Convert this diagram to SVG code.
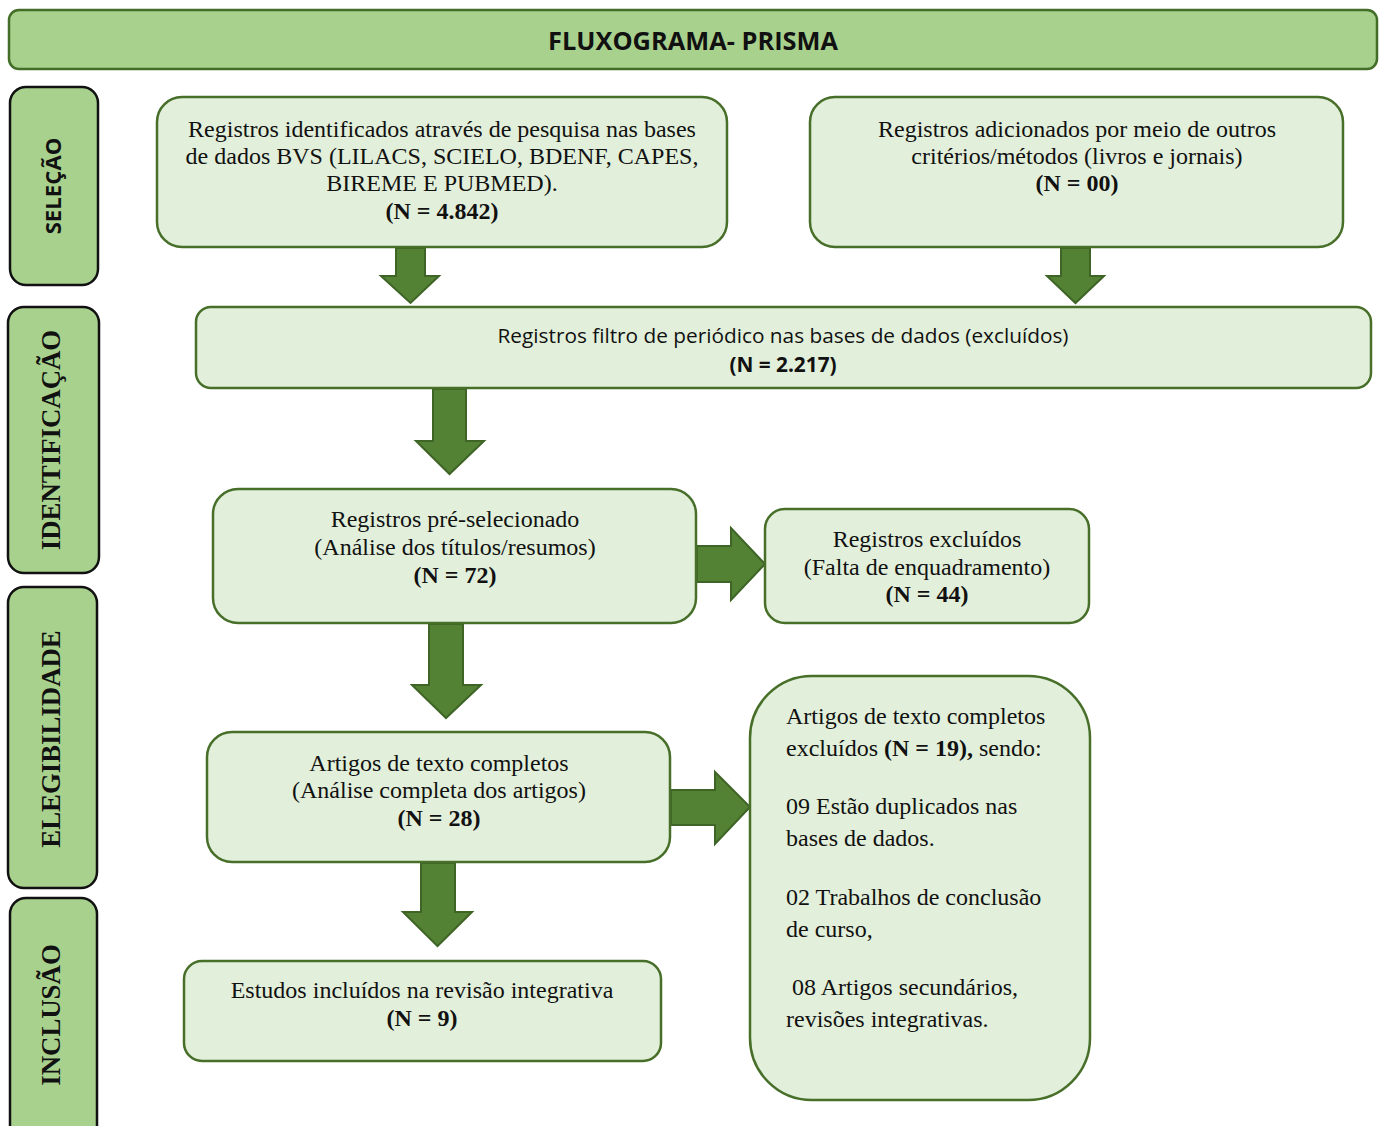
<svg xmlns="http://www.w3.org/2000/svg" width="1379" height="1126" viewBox="0 0 1379 1126">
<style>
.hdr{fill:#a9d18e;stroke:#426e28;stroke-width:2.5}
.side{fill:#a9d18e;stroke:#111;stroke-width:2.5}
.box{fill:#e2efda;stroke:#476f2a;stroke-width:2.5}
.arr{fill:#548235;stroke:#3e6426;stroke-width:2}
.serif{font-family:"Liberation Serif","Times New Roman",serif;font-size:24px;fill:#111}
.sans{font-family:"Open Sans","Liberation Sans",sans-serif;font-size:20.8px;fill:#111}
.c{text-anchor:middle}
.b{font-weight:bold}
.sidet{font-weight:bold;text-anchor:middle}
.sideserif{font-size:26.8px}
</style>
<g id="header">
<rect class="hdr" x="9" y="10" width="1368" height="59" rx="10"/>
<text class="sans b c" x="693" y="50" style="font-size:25.5px" textLength="290" lengthAdjust="spacingAndGlyphs">FLUXOGRAMA- PRISMA</text>
</g>
<g id="lane-selecao">
<rect class="side" x="10" y="87" width="88" height="198" rx="16"/>
<text class="sans sidet" transform="translate(61,186) rotate(-90)" style="font-size:22.2px">SELEÇÃO</text>
</g>
<g id="lane-identificacao">
<rect class="side" x="8" y="307" width="91" height="266" rx="16"/>
<text class="serif sidet sideserif" transform="translate(60,440) rotate(-90)">IDENTIFICAÇÃO</text>
</g>
<g id="lane-elegibilidade">
<rect class="side" x="8" y="587" width="89" height="301" rx="16"/>
<text class="serif sidet sideserif" transform="translate(60,739) rotate(-90)">ELEGIBILIDADE</text>
</g>
<g id="lane-inclusao">
<rect class="side" x="10" y="898" width="87" height="250" rx="16"/>
<text class="serif sidet sideserif" transform="translate(60,1015) rotate(-90)">INCLUSÃO</text>
</g>
<g id="connectors">
<polygon class="arr" points="396,248 425,248 425,276 439,276 410.5,303 381,276 396,276"/>
<polygon class="arr" points="1061,248 1090,248 1090,276 1104,276 1075.5,303 1047,276 1061,276"/>
<polygon class="arr" points="433,389 466,389 466,441 484,441 449.5,474 416,441 433,441"/>
<polygon class="arr" points="697,546 731,546 731,528 765,564 731,600 731,582 697,582"/>
<polygon class="arr" points="429,624 463,624 463,685 481,685 446,718 412,685 429,685"/>
<polygon class="arr" points="671,790 715,790 715,772 750,807 715,844 715,825 671,825"/>
<polygon class="arr" points="421,863 455,863 455,912 472,912 437.5,946 403,912 421,912"/>
</g>
<g id="box-identificados">
<rect class="box" x="157" y="97" width="570" height="150" rx="25"/>
<text class="serif c" x="442" y="137">Registros identificados através de pesquisa nas bases</text>
<text class="serif c" x="442" y="164">de dados BVS (LILACS, SCIELO, BDENF, CAPES,</text>
<text class="serif c" x="442" y="191">BIREME E PUBMED).</text>
<text class="serif c b" x="442" y="219">(N = 4.842)</text>
</g>
<g id="box-adicionados">
<rect class="box" x="810" y="97" width="533" height="150" rx="25"/>
<text class="serif c" x="1077" y="137">Registros adicionados por meio de outros</text>
<text class="serif c" x="1077" y="164">critérios/métodos (livros e jornais)</text>
<text class="serif c b" x="1077" y="191">(N = 00)</text>
</g>
<g id="box-filtro">
<rect class="box" x="196" y="307" width="1175" height="81" rx="15"/>
<text class="sans c" x="783" y="343">Registros filtro de periódico nas bases de dados (excluídos)</text>
<text class="sans c b" x="783" y="372">(N = 2.217)</text>
</g>
<g id="box-preselecionado">
<rect class="box" x="213" y="489" width="483" height="134" rx="25"/>
<text class="serif c" x="455" y="527">Registros pré-selecionado</text>
<text class="serif c" x="455" y="555">(Análise dos títulos/resumos)</text>
<text class="serif c b" x="455" y="583">(N = 72)</text>
</g>
<g id="box-excluidos">
<rect class="box" x="765" y="509" width="324" height="114" rx="20"/>
<text class="serif c" x="927" y="547">Registros excluídos</text>
<text class="serif c" x="927" y="575">(Falta de enquadramento)</text>
<text class="serif c b" x="927" y="602">(N = 44)</text>
</g>
<g id="box-textocompleto">
<rect class="box" x="207" y="732" width="463" height="130" rx="25"/>
<text class="serif c" x="439" y="771">Artigos de texto completos</text>
<text class="serif c" x="439" y="798">(Análise completa dos artigos)</text>
<text class="serif c b" x="439" y="826">(N = 28)</text>
</g>
<g id="box-excluidos19">
<rect class="box" x="750" y="676" width="340" height="424" rx="62"/>
<text class="serif" x="786" y="724">Artigos de texto completos</text>
<text class="serif" x="786" y="756">excluídos <tspan font-weight="bold">(N = 19),</tspan> sendo:</text>
<text class="serif" x="786" y="814">09 Estão duplicados nas</text>
<text class="serif" x="786" y="846">bases de dados.</text>
<text class="serif" x="786" y="905">02 Trabalhos de conclusão</text>
<text class="serif" x="786" y="937">de curso,</text>
<text class="serif" x="792" y="995">08 Artigos secundários,</text>
<text class="serif" x="786" y="1027">revisões integrativas.</text>
</g>
<g id="box-incluidos">
<rect class="box" x="184" y="961" width="477" height="100" rx="18"/>
<text class="serif c" x="422" y="998">Estudos incluídos na revisão integrativa</text>
<text class="serif c b" x="422" y="1026">(N = 9)</text>
</g>
</svg>
